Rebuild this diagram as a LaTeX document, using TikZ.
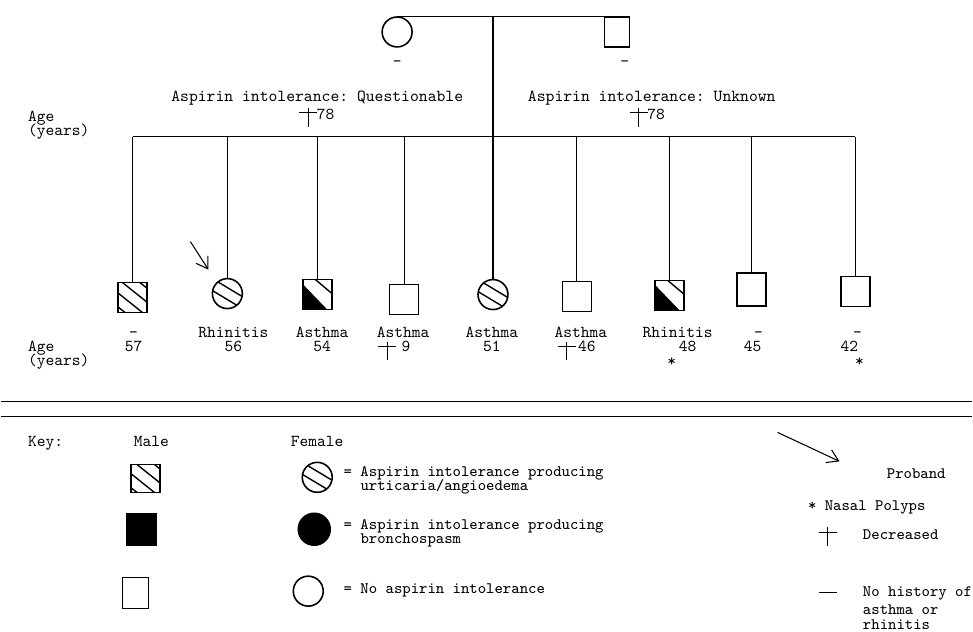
\documentclass[tikz,border=0pt]{standalone}
\usetikzlibrary{arrows.meta}
\frenchspacing

\tikzset{dcsd/.pic={\draw (-9,0) -- (9,0) (0,-5) -- (0,14);}}

\begin{document}
\begin{tikzpicture}[x=0.02cm, y=-0.02cm, line width=0.6pt,
      every node/.append style={font=\fontsize{9.5}{9}\selectfont\ttfamily, inner sep=0pt},
      male/.style={draw, rectangle, line width=0.9pt, minimum width=0.58cm, minimum height=0.6cm},
      female/.style={draw, circle, line width=0.9pt, minimum size=0.6cm},
      hatchsq/.style={path picture={\begin{scope}[shift={(path picture bounding box.center)}]
          \foreach \hh in {-21,-7,7,21} \draw[line width=0.8pt] (-20,-16+\hh) -- (20,16+\hh);
        \end{scope}}},
      hatchcirc/.style={path picture={\begin{scope}[shift={(path picture bounding box.center)}]
          \foreach \hh in {-18,-6,6,18} \draw[line width=0.8pt] (-20,-12+\hh) -- (20,12+\hh);
        \end{scope}}},
      halfblk/.style={path picture={\begin{scope}[shift={(path picture bounding box.center)}]
          \fill (-16,-12) -- (11,16) -- (-16,16) -- cycle;
          \draw[line width=0.8pt] (-3,-16) -- (16,0);
        \end{scope}}}]
    \tikzstyle{lbl} = [text height=6pt, text depth=1pt]
    \tikzstyle{lbll} = [lbl, anchor=west]
    \tikzstyle{keytxt} = [lbll, font=\fontsize{9.1}{9}\selectfont\ttfamily]
    \tikzstyle{pointer} = [-{Straight Barb[length=2.2mm, width=2.8mm]}]
    \fill[white] (0,0) rectangle (973,632);

    % parents
    \node[female] (gm) at (397,32) {};
    \node[male, minimum width=0.5cm] (gf) at (617,32) {};
    \node[lbl] (gmd) at (397,62) {\textendash};
    \node[lbl] (gfd) at (625,62) {\textendash};
    \draw (gm.north) -- (gf.north east);
    \coordinate (sibl) at (493,137);
    \draw (sibl |- gm.north) -- (sibl);

    \node[lbl, font=\fontsize{9.6}{9}\selectfont\ttfamily] (aiq) at (317,97) {Aspirin intolerance: Questionable};
    \pic at (308,113) {dcsd};
    \node[lbll] (aiqa) at (316,115) {78};
    \node[lbl, font=\fontsize{9.6}{9}\selectfont\ttfamily] (aiu) at (652,97) {Aspirin intolerance: Unknown};
    \pic at (639,113) {dcsd};
    \node[lbll] (aiua) at (647,115) {78};
    \node[lbll] (agea) at (27,117) {Age};
    \node[lbll] (agey) at (27,131) {(years)};

    % children
    \node[male, hatchsq] (s1) at (132,298) {};
    \node[female, hatchcirc] (s2) at (227,294) {};
    \node[male, halfblk] (s3) at (317,295) {};
    \node[male] (s4) at (404,300) {};
    \node[female, hatchcirc] (s5) at (493,295) {};
    \node[male] (s6) at (577,297) {};
    \node[male, halfblk] (s7) at (670,296) {};
    \node[male, minimum height=0.66cm] (s8) at (752,290) {};
    \node[male] (s9) at (856,292) {};
    \foreach \i in {1,...,9} \draw (s\i.north) -- (s\i.north |- sibl);
    \draw (s1.north |- sibl) -- (s9.north |- sibl);

    \coordinate (pbs) at (190,242);
    \coordinate (pbt) at (208,270);
    \draw[pointer] (pbs) -- (pbt);

    \node[lbl] (s1a) at (133,334) {\textendash};
    \node[lbl] (s1b) at (133,348) {57};
    \node[lbl] (s2a) at (233,334) {Rhinitis};
    \node[lbl] (s2b) at (233,348) {56};
    \node[lbl] (s3a) at (322,334) {Asthma};
    \node[lbl] (s3b) at (322,348) {54};
    \node[lbl] (s4a) at (403,334) {Asthma};
    \pic at (387,347) {dcsd};
    \node[lbl] (s4b) at (406,348) {9};
    \node[lbl] (s5a) at (492,334) {Asthma};
    \node[lbl] (s5b) at (492,348) {51};
    \node[lbl] (s6a) at (581,334) {Asthma};
    \pic at (567,347) {dcsd};
    \node[lbl] (s6b) at (587,348) {46};
    \node[lbl] (s7a) at (678,334) {Rhinitis};
    \node[lbl] (s7b) at (688,348) {48};
    \node[lbl] (s7c) at (672,363) {*};
    \node[lbl] (s8a) at (759,334) {\textendash};
    \node[lbl] (s8b) at (753,348) {45};
    \node[lbl] (s9a) at (858,334) {\textendash};
    \node[lbl] (s9b) at (850,348) {42};
    \node[lbl] (s9c) at (860,363) {*};
    \node[lbll] (ageb) at (27,348) {Age};
    \node[lbll] (ageby) at (27,362) {(years)};

    \draw[line width=0.8pt] (0,402) -- (973,402);
    \draw[line width=0.8pt] (0,417) -- (973,417);

    % key
    \node[lbll] (key) at (27,443) {Key:};
    \node[lbl] (kmale) at (151,443) {Male};
    \node[lbl] (kfem) at (317,443) {Female};
    \node[male, hatchsq, minimum height=0.56cm] (km1) at (145,479) {};
    \node[male, fill=black, minimum height=0.62cm] (km2) at (141,530) {};
    \node[male, minimum width=0.52cm, minimum height=0.62cm] (km3) at (135,594) {};
    \node[female, hatchcirc] (kf1) at (317,478) {};
    \node[female, fill=black, minimum size=0.64cm] (kf2) at (314,530) {};
    \node[female] (kf3) at (308,592) {};
    \node[keytxt] (kt1) at (343,473) {= Aspirin intolerance producing};
    \node[keytxt] (kt1b) at (343,487) {\hphantom{= }urticaria/angioedema};
    \node[keytxt] (kt2) at (343,526) {= Aspirin intolerance producing};
    \node[keytxt] (kt2b) at (343,540) {\hphantom{= }bronchospasm};
    \node[keytxt] (kt3) at (343,590) {= No aspirin intolerance};

    \coordinate (kps) at (778,433);
    \coordinate (kpt) at (840,462);
    \draw[pointer] (kps) -- (kpt);
    \node[keytxt] (kprob) at (887,475) {Proband};
    \node[keytxt] (kpoly) at (808,507) {* Nasal Polyps};
    \pic at (828,533) {dcsd};
    \node[keytxt] (kdec) at (863,536) {Decreased};
    \coordinate (kds) at (819,593);
    \coordinate (kde) at (837,593);
    \draw (kds) -- (kde);
    \node[keytxt] (knh1) at (863,593) {No history of};
    \node[keytxt] (knh2) at (863,611) {asthma or};
    \node[keytxt] (knh3) at (863,626) {rhinitis};
  \end{tikzpicture}
\end{document}
